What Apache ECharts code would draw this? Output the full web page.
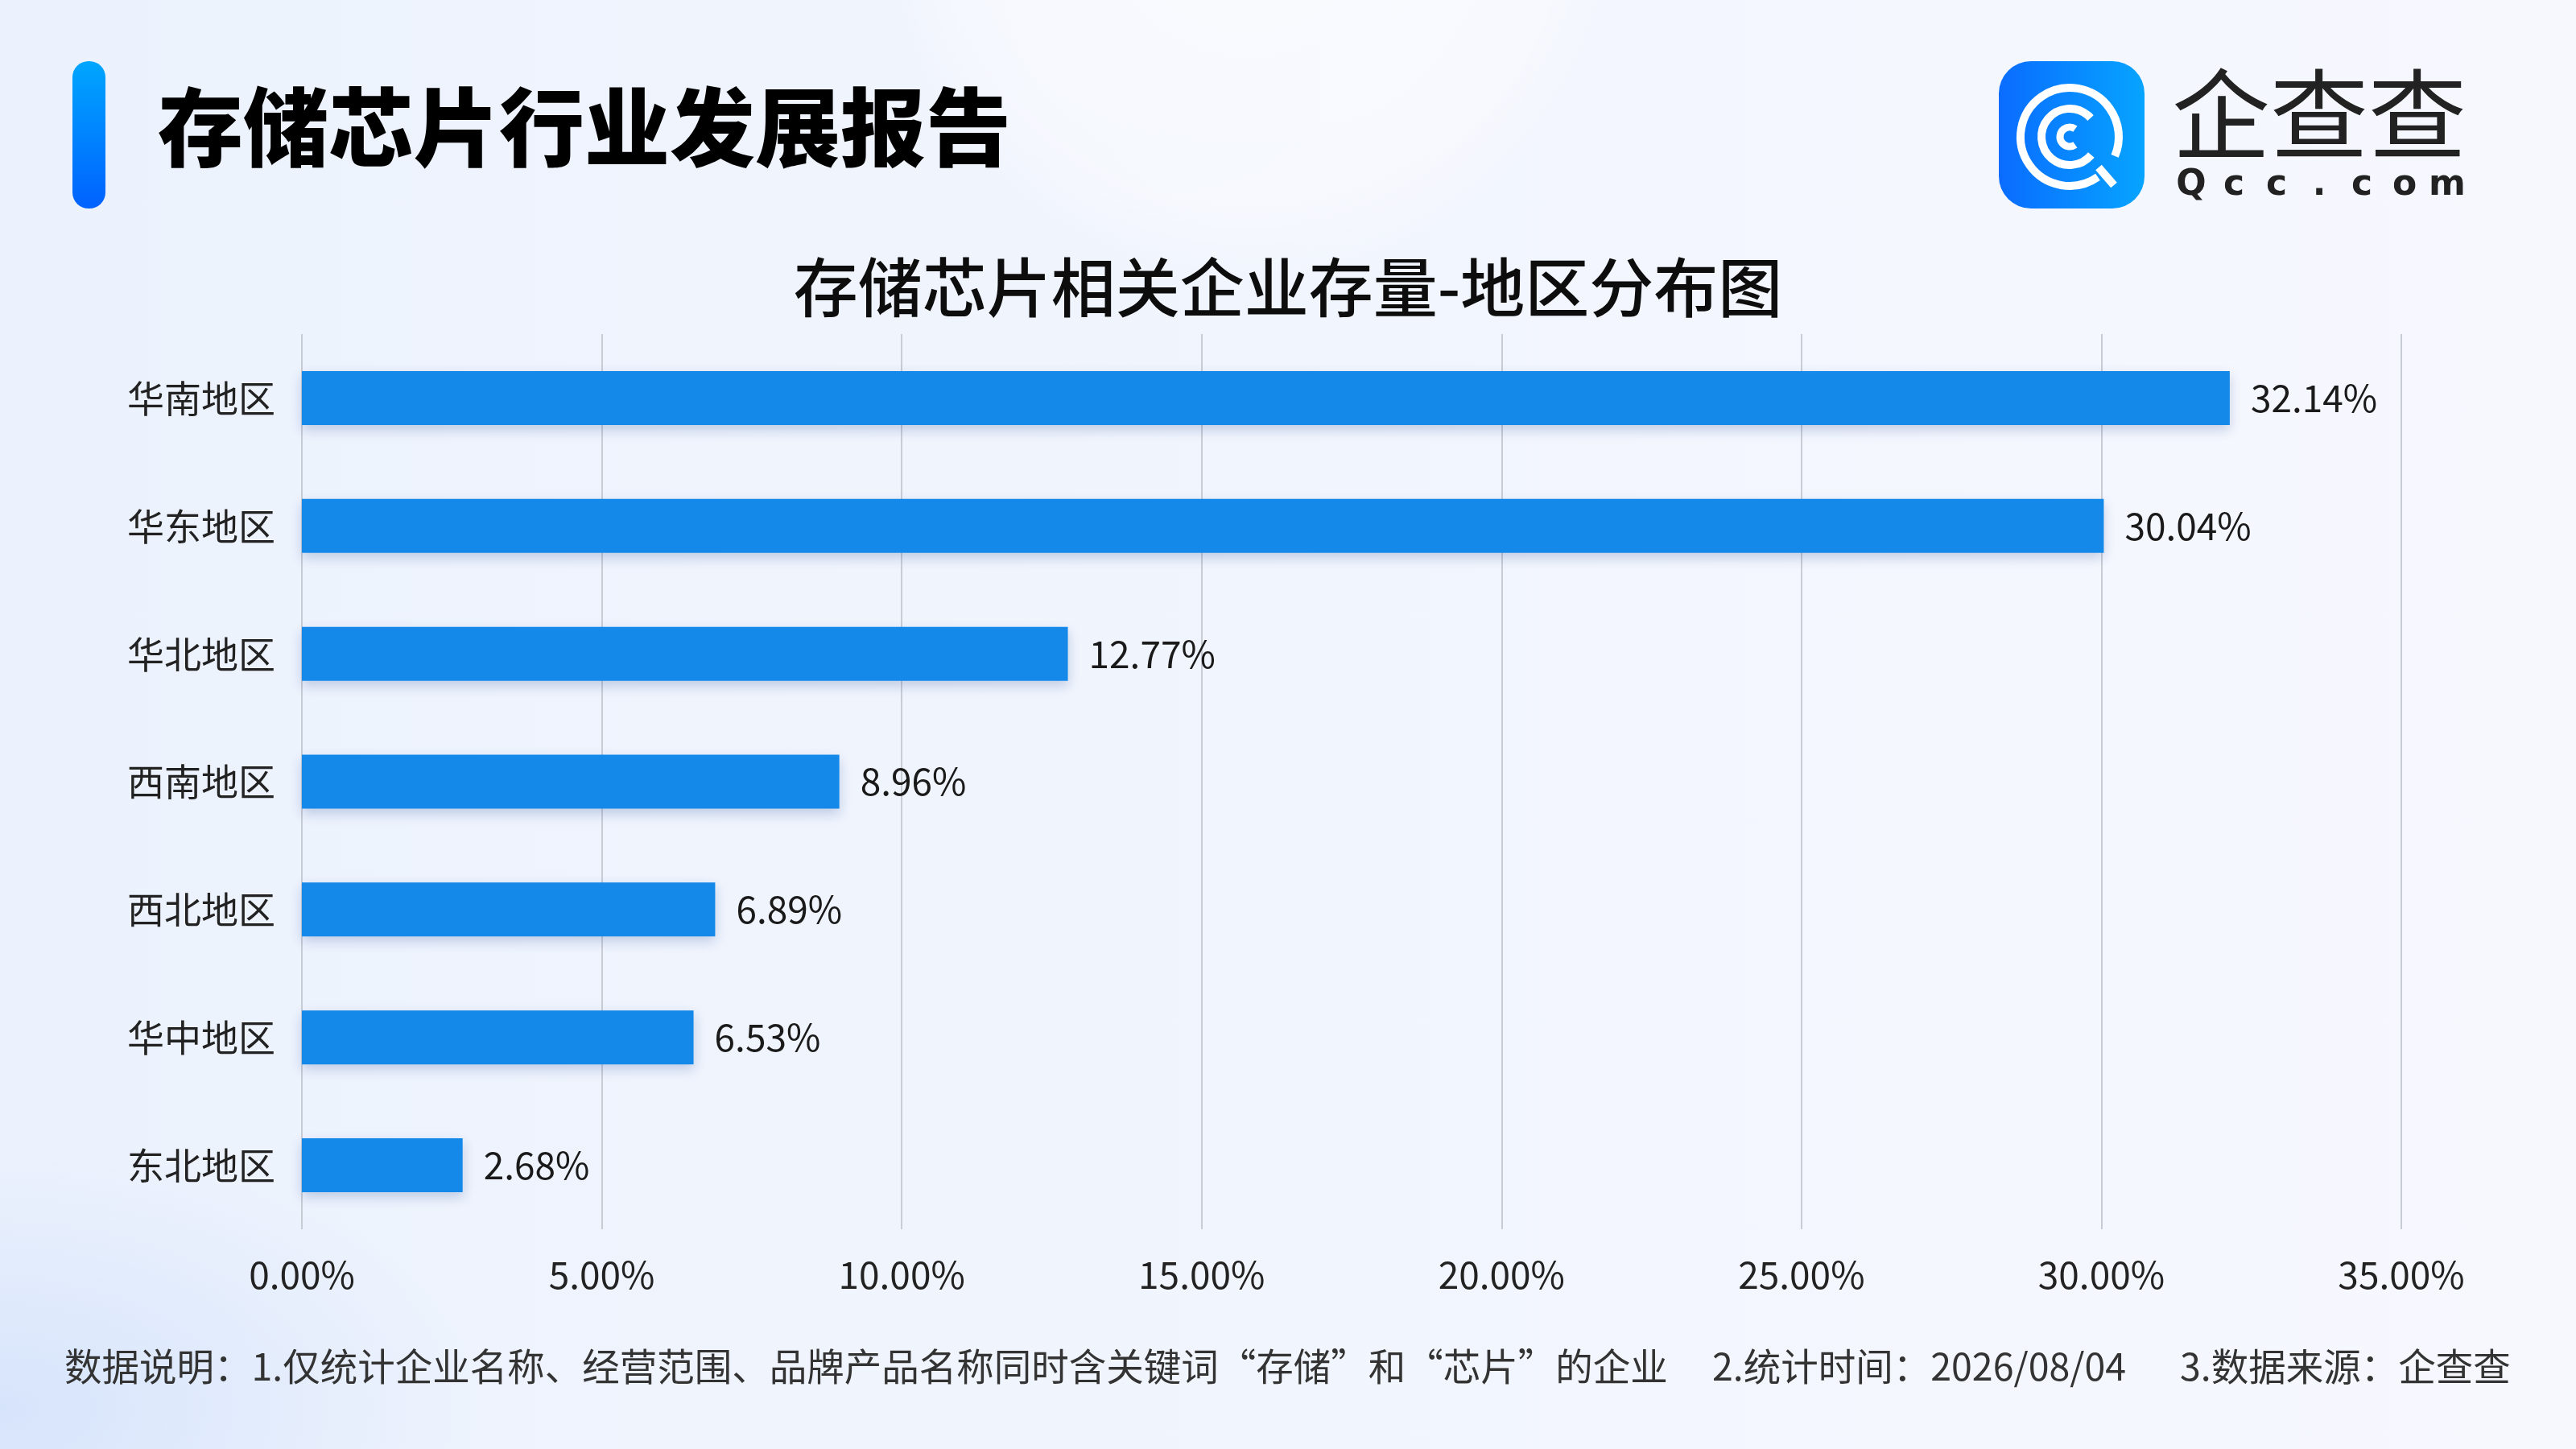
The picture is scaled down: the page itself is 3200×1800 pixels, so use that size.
<!DOCTYPE html>
<html>
<head>
<meta charset="utf-8">
<script src="https://cdn.jsdelivr.net/npm/echarts@6/dist/echarts.min.js"></script>
<style>
html,body{margin:0;padding:0;width:3200px;height:1800px;overflow:hidden;}
body{
  background:
    radial-gradient(circle at 1550px -120px, rgba(255,255,255,0.55) 0px, rgba(255,255,255,0.35) 380px, rgba(255,255,255,0) 470px),
    radial-gradient(ellipse at 0px 1750px, rgba(205,222,250,0.7) 0px, rgba(205,222,250,0) 600px),
    linear-gradient(90deg, #ECF2FD 0%, #F1F5FD 50%, #F6F8FE 100%);
}
#chart{width:3200px;height:1800px;}
</style>
</head>
<body>
<div id="chart"></div>
<script>
var categories = ['华南地区', '华东地区', '华北地区', '西南地区', '西北地区', '华中地区', '东北地区'];
var shares = [32.14, 30.04, 12.77, 8.96, 6.89, 6.53, 2.68];
var axisMin = 0, axisMax = 35, axisStep = 5;
var mainTitle = '存储芯片行业发展报告';
var chartTitle = '存储芯片相关企业存量-地区分布图';
var footNotes = ['数据说明：1.仅统计企业名称、经营范围、品牌产品名称同时含关键词“存储”和“芯片”的企业', '2.统计时间：2026/08/04', '3.数据来源：企查查'];
var brandName = '企查查';
var brandUrl = 'Qcc.com';

var FONT = '"Noto Sans CJK SC", "Noto Sans", sans-serif';
var chart = echarts.init(document.getElementById('chart'), null, {renderer: 'canvas'});

var deg = Math.PI / 180;
var lcx = 2571, lcy = 170;
var graphics = [
  {type: 'rect', shape: {x: 90, y: 76, width: 41, height: 183, r: 20},
   style: {fill: new echarts.graphic.LinearGradient(0, 0, 0, 1, [{offset: 0, color: '#00A6FF'}, {offset: 1, color: '#0062FF'}])}},
  {type: 'text', x: 196, y: 158, style: {text: mainTitle, font: '900 106px ' + FONT, fill: '#000000', textVerticalAlign: 'middle'}},
  {type: 'text', x: 1600, y: 357, style: {text: chartTitle, font: '500 80px ' + FONT, fill: '#0d0d0d', textAlign: 'center', textVerticalAlign: 'middle'}},
  // logo
  {type: 'rect', shape: {x: 2483, y: 76, width: 181, height: 183, r: 40},
   style: {fill: new echarts.graphic.LinearGradient(0, 0, 1, 0, [{offset: 0, color: '#0A6CFF'}, {offset: 1, color: '#06A4FF'}])}},
  {type: 'arc', shape: {cx: lcx, cy: lcy, r: 61, startAngle: 55 * deg, endAngle: 383 * deg, clockwise: true},
   style: {stroke: '#ffffff', lineWidth: 10, fill: null}},
  {type: 'line', shape: {x1: lcx + 36, y1: lcy + 38, x2: lcx + 55, y2: lcy + 60},
   style: {stroke: '#ffffff', lineWidth: 10}},
  {type: 'arc', shape: {cx: lcx, cy: lcy, r: 35, startAngle: 40 * deg, endAngle: 318 * deg, clockwise: true},
   style: {stroke: '#ffffff', lineWidth: 10, fill: null}},
  {type: 'arc', shape: {cx: lcx, cy: lcy, r: 12, startAngle: 55 * deg, endAngle: 305 * deg, clockwise: true},
   style: {stroke: '#ffffff', lineWidth: 9, fill: null}},
  {type: 'text', x: 2881, y: 142, style: {text: brandName, font: '400 122px ' + FONT, fill: '#222222', textAlign: 'center', textVerticalAlign: 'middle'}},
  // footer
  {type: 'text', x: 80, y: 1697, style: {text: footNotes[0], font: '400 46.5px ' + FONT, fill: '#333333', textVerticalAlign: 'middle'}},
  {type: 'text', x: 2127, y: 1697, style: {text: footNotes[1], font: '400 46.5px ' + FONT, fill: '#333333', textVerticalAlign: 'middle'}},
  {type: 'text', x: 2708, y: 1697, style: {text: footNotes[2], font: '400 46.5px ' + FONT, fill: '#333333', textVerticalAlign: 'middle'}}
];
for (var i = 0; i < brandUrl.length; i++) {
  graphics.push({type: 'text', x: 2722 + i * 53, y: 231,
    style: {text: brandUrl.charAt(i), font: 'bold 44px "DejaVu Sans", sans-serif', fill: '#222222', textAlign: 'center', textVerticalAlign: 'middle'}});
}

var option = {
  backgroundColor: 'transparent',
  animation: false,
  grid: {left: 375, right: 217, top: 415, bottom: 273, containLabel: false},
  xAxis: {
    type: 'value', min: axisMin, max: axisMax, interval: axisStep,
    axisLine: {show: false}, axisTick: {show: false},
    splitLine: {show: true, lineStyle: {color: '#C8CCD4', width: 2}},
    axisLabel: {fontSize: 46, color: '#222222', fontFamily: FONT, margin: 34,
      formatter: function (v) { return v.toFixed(2) + '%'; }}
  },
  yAxis: {
    type: 'category', data: categories, inverse: true,
    axisLine: {show: false}, axisTick: {show: false}, splitLine: {show: false},
    axisLabel: {fontSize: 46, color: '#222222', fontFamily: FONT, margin: 33, padding: [0, 0, 7, 0]}
  },
  series: [{
    type: 'bar', data: shares, barWidth: 67,
    itemStyle: {color: '#1589E9', shadowColor: 'rgba(20,60,140,0.22)', shadowBlur: 14, shadowOffsetY: 6},
    label: {show: true, position: 'right', distance: 26, fontSize: 46, color: '#1a1a1a', fontFamily: FONT,
      padding: [0, 0, 7, 0],
      formatter: function (p) { return p.value.toFixed(2) + '%'; }}
  }],
  graphic: graphics
};
chart.setOption(option);
</script>
</body>
</html>
